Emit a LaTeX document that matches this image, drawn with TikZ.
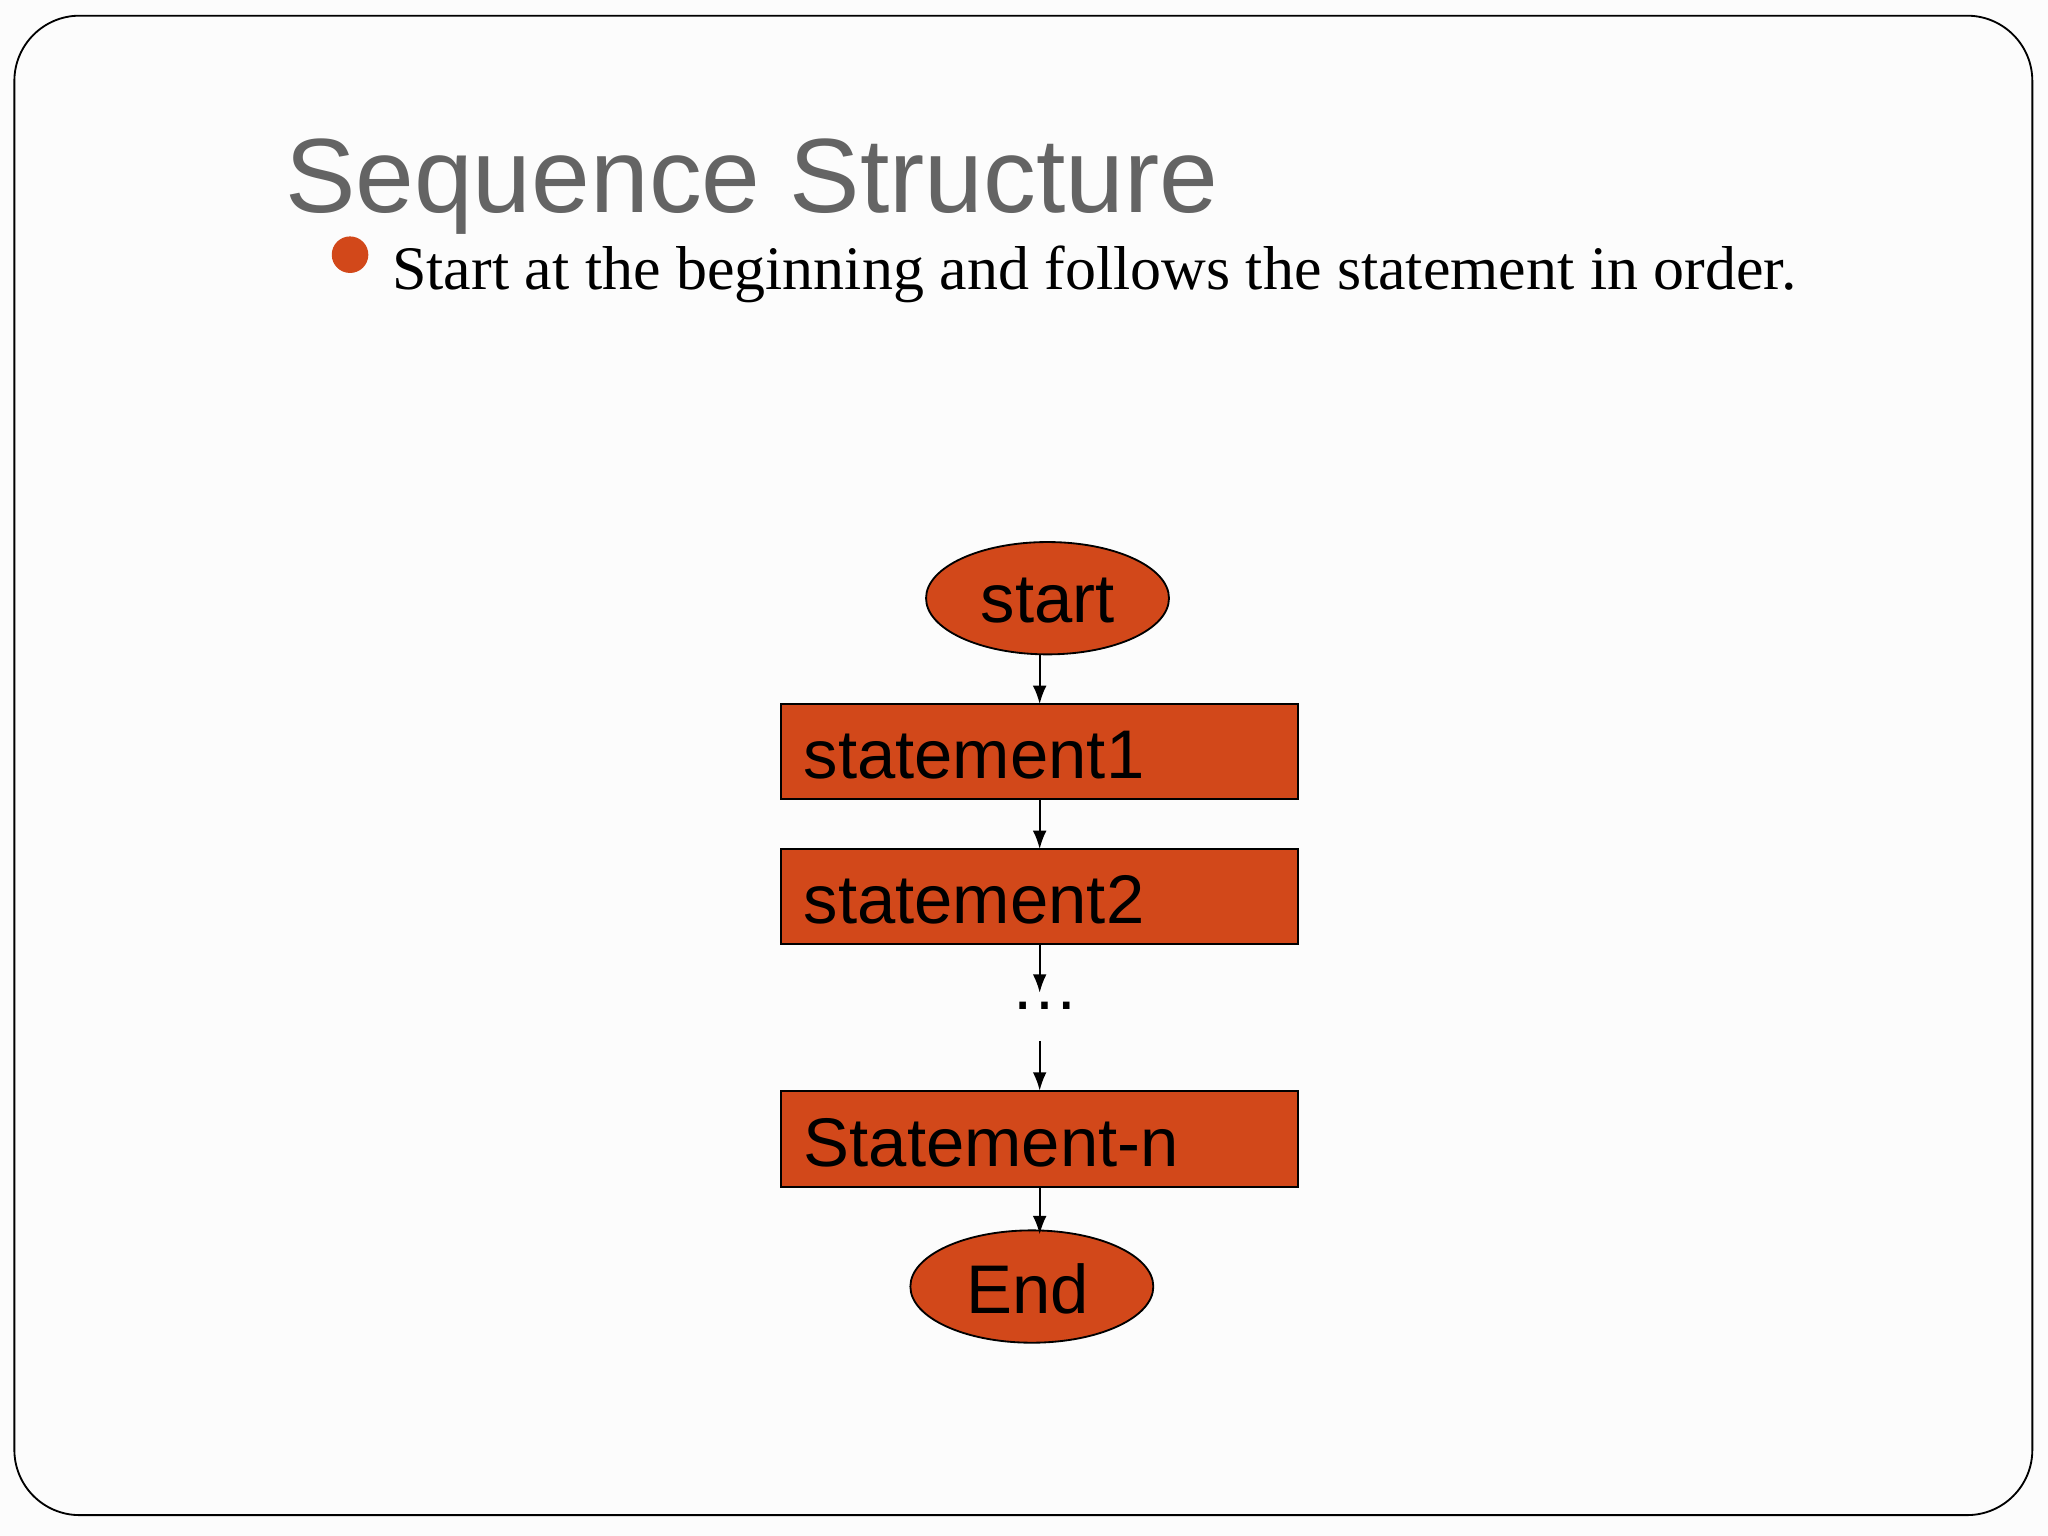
\documentclass[tikz,border=0pt]{standalone}
\usepackage{fontspec}
\setmainfont{Liberation Serif}
\setsansfont{Liberation Sans}
\usetikzlibrary{shapes.geometric,arrows.meta}
\definecolor{org}{RGB}{210,72,26}
\definecolor{ttl}{RGB}{100,100,100}
\tikzset{
  x=0.02cm,y=-0.02cm,
  blk/.style={draw=black,line width=0.8pt,fill=org},
  boxtxt/.style={font=\sffamily\fontsize{30}{34}\selectfont,anchor=base west,inner sep=0},
  arr/.style={-{Latex[length=8pt,width=6pt]},line width=0.8pt}
}
\begin{document}
\begin{tikzpicture}
\useasboundingbox (0,0) rectangle (1568,1176);
\fill[white!99!black] (0,0) rectangle (1568,1176);
\draw[line width=0.8pt,rounded corners=1cm] (11,12) rectangle (1556,1160);
\node[anchor=base west,inner sep=0,text=ttl,font=\sffamily\fontsize{46}{50}\selectfont] (title) at (218,163) {Sequence Structure};
\fill[org] (268,195) circle (14);
\node[anchor=base west,inner sep=0,font=\fontsize{27}{30}\selectfont] (bul) at (300,222) {Start at the beginning and follows the statement in order.};
\draw[blk] (802,458) ellipse (93 and 43);
\node[font=\sffamily\fontsize{30}{34}\selectfont] (start) at (802,460) {start};
\coordinate (sb) at (796,501);
\draw[blk] (598,539) rectangle (994,612);
\coordinate (s1t) at (796,539); \coordinate (s1b) at (796,612);
\node[boxtxt] (s1) at (615,596) {statement1};
\draw[blk] (598,650) rectangle (994,723);
\coordinate (s2t) at (796,650); \coordinate (s2b) at (796,723);
\node[boxtxt] (s2) at (615,707) {statement2};
\node[font=\sffamily\fontsize{30}{34}\selectfont] (dots) at (800,770) {\dots};
\coordinate (d1) at (796,760); \coordinate (d2) at (796,797);
\draw[blk] (598,835) rectangle (994,909);
\coordinate (snt) at (796,835); \coordinate (snb) at (796,909);
\node[boxtxt] (sn) at (615,893) {Statement-n};
\draw[blk] (790,985) ellipse (93 and 43);
\node[font=\sffamily\fontsize{30}{34}\selectfont] (end) at (787,987) {End};
\coordinate (et) at (796,945);
\draw[arr] (sb) -- (s1t);
\draw[arr] (s1b) -- (s2t);
\draw[arr] (s2b) -- (d1);
\draw[arr] (d2) -- (snt);
\draw[arr] (snb) -- (et);
\end{tikzpicture}
\end{document}
